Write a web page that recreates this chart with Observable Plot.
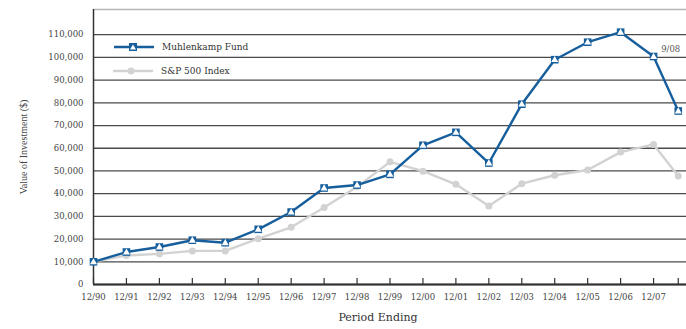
<!DOCTYPE html>
<html>
<head>
<meta charset="utf-8">
<script src="https://cdn.jsdelivr.net/npm/d3@7"></script>
<script src="https://cdn.jsdelivr.net/npm/@observablehq/plot@0.6"></script>
<style>
  html, body { margin: 0; padding: 0; background: #fff; }
  #wrap { position: relative; width: 686px; height: 329px; overflow: hidden; }
  .leg { position: absolute; font-family: "DejaVu Serif", serif; font-size: 9px; color: #333; display: flex; align-items: center; }
  .leg svg { margin-right: 7px; }
</style>
</head>
<body>
<div id="wrap">
  <div id="chart"></div>
  <div class="leg" style="left:113px; top:41px;">
    <svg width="42" height="12"><line x1="1" y1="6" x2="41" y2="6" stroke="#165e9c" stroke-width="2.4"/><rect x="16" y="2" width="8" height="8" fill="#165e9c"/><path d="M20,3.6 L23,8.6 L17,8.6 Z" fill="#fff"/></svg>
    <span>Muhlenkamp Fund</span>
  </div>
  <div class="leg" style="left:112px; top:65px;">
    <svg width="42" height="12"><line x1="1" y1="6" x2="41" y2="6" stroke="#d2d2d2" stroke-width="2.4"/><circle cx="19" cy="6" r="3.4" fill="#d2d2d2"/></svg>
    <span>S&amp;P 500 Index</span>
  </div>
</div>
<script>
// years after 12/90 (17.75 = 9/08)
const periods = [0,1,2,3,4,5,6,7,8,9,10,11,12,13,14,15,16,17,17.75];
const tickLabels = ["12/90","12/91","12/92","12/93","12/94","12/95","12/96","12/97","12/98","12/99","12/00","12/01","12/02","12/03","12/04","12/05","12/06","12/07"];
const lastLabel = "9/08";
const muhlenkamp = [10000,14300,16500,19500,18400,24300,31900,42500,43800,48500,61300,67000,53500,79400,99000,106700,111100,100400,76400];
const sp500 = [10000,12800,13500,14800,14800,20200,25200,33900,43000,54000,49900,44100,34600,44400,48100,50400,58300,61700,47800];
const yTicks = [0,10000,20000,30000,40000,50000,60000,70000,80000,90000,100000,110000];
const yMax = 121100;
const xMax = 18;

const blue = "#165e9c";
const gray = "#d2d2d2";
const fund = periods.map((p, i) => ({x: p, y: muhlenkamp[i]}));
const sp = periods.map((p, i) => ({x: p, y: sp500[i]}));
const tickPos = periods;
const labelPos = periods.slice(0, tickLabels.length);

const H = 329, mt = 9, mb = 45;
const chart = Plot.plot({
  width: 686,
  height: H,
  marginTop: mt,
  marginBottom: mb,
  marginLeft: 93,
  marginRight: 0,
  style: {fontFamily: "DejaVu Serif, serif", fontSize: "8.5px", color: "#444", background: "#fff"},
  x: {domain: [0, xMax]},
  y: {domain: [0, yMax]},
  marks: [
    Plot.ruleY(yTicks, {stroke: "#4a4a4a", strokeWidth: 1.3}),
    Plot.ruleY([yMax], {stroke: "#b5b5b5", strokeWidth: 1.5}),
    Plot.ruleX(tickPos, {stroke: "#333", strokeWidth: 1.2, insetTop: H - mt - mb - 6}),
    Plot.axisY({ticks: yTicks, tickSize: 0, tickPadding: 10, tickFormat: d3.format(","), fontSize: 8.5,
      label: "Value of Investment ($)", labelAnchor: "center", labelArrow: "none", labelOffset: 74}),
    Plot.axisX({ticks: labelPos, tickSize: 0, tickPadding: 9, tickFormat: (d) => tickLabels[d], fontSize: 8.5, label: null}),
    Plot.ruleX([0], {stroke: "#333", strokeWidth: 1.5}),
    Plot.ruleY([0], {stroke: "#333", strokeWidth: 2}),
    Plot.line(sp, {x: "x", y: "y", stroke: gray, strokeWidth: 2.4}),
    Plot.dot(sp, {x: "x", y: "y", r: 3.5, fill: gray}),
    Plot.line(fund, {x: "x", y: "y", stroke: blue, strokeWidth: 2.4}),
    Plot.dot(fund, {x: "x", y: "y", symbol: "square", r: 4.3, fill: blue}),
    Plot.dot(fund, {x: "x", y: "y", symbol: "triangle", r: 2.6, fill: "#fff", dy: 0.4}),
    Plot.text([lastLabel], {x: periods[periods.length - 1], frameAnchor: "top", text: (d) => d, dy: 36, dx: 2, textAnchor: "end", fontSize: 8.5, fill: "#555"}),
    Plot.text(["Period Ending"], {frameAnchor: "bottom", text: (d) => d, dy: 36, dx: -12, fontSize: 11, fill: "#333", fontWeight: 500})
  ]
});
document.getElementById("chart").appendChild(chart);
const yl = chart.querySelector('[aria-label="y-axis label"] text');
if (yl) { yl.style.fontFamily = "Liberation Serif, serif"; yl.style.fontSize = "10px"; }
</script>
</body>
</html>
